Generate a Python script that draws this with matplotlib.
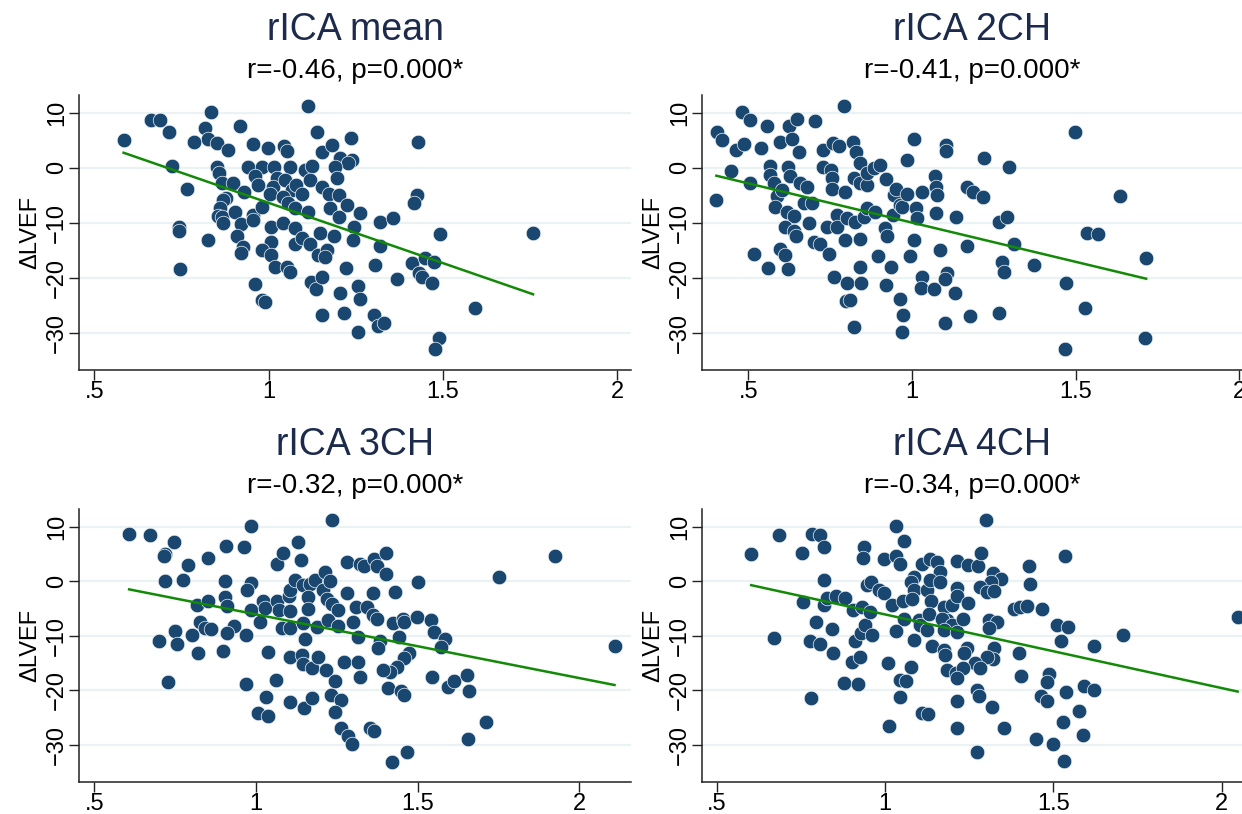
import matplotlib
matplotlib.use("Agg")
import matplotlib.pyplot as plt

plt.rcParams['font.family'] = ['Liberation Sans', 'DejaVu Sans']

# ---------------- DATA ----------------
titles = ["rICA mean", "rICA 2CH", "rICA 3CH", "rICA 4CH"]
subtitles = ["r=-0.46, p=0.000*", "r=-0.41, p=0.000*",
             "r=-0.32, p=0.000*", "r=-0.34, p=0.000*"]

x_mean = [0.584, 0.664, 0.688, 0.714, 0.836, 0.817, 0.826, 0.852, 0.884, 0.785,
          0.918, 0.954, 0.997, 1.045, 1.052, 1.112, 1.139, 1.152, 1.181, 1.236,
          1.205, 1.238, 1.229, 0.724, 0.767, 0.852, 0.858, 0.865, 0.898, 0.930,
          0.879, 0.870, 0.940, 0.980, 0.961, 0.970, 1.016, 1.023, 1.013, 1.004,
          1.061, 1.047, 1.066, 1.042, 1.080, 1.104, 1.124, 1.119, 1.095, 1.057,
          1.076, 1.114, 1.191, 1.196, 1.152, 1.172, 1.201, 1.177, 1.201, 1.224,
          1.262, 0.862, 0.855, 0.865, 0.870, 0.905, 0.920, 0.956, 0.954, 0.980,
          1.008, 1.042, 1.077, 1.148, 1.188, 1.246, 1.243, 0.742, 0.742, 0.825,
          0.908, 1.008, 1.076, 1.097, 1.119, 0.927, 0.920, 0.980, 1.008, 1.018,
          1.052, 1.061, 1.143, 1.167, 1.162, 1.222, 0.747, 0.961, 0.980, 0.991,
          1.123, 1.135, 1.152, 1.154, 1.205, 1.215, 1.258, 1.262, 1.258,
          1.430, 1.425, 1.416, 1.320, 1.358, 1.321, 1.492, 1.759, 1.305, 1.411,
          1.449, 1.476, 1.431, 1.441, 1.468, 1.368, 1.303, 1.314, 1.330, 1.593,
          1.489, 1.478]
y_mean = [5.0, 8.7, 8.6, 6.5, 10.2, 7.3, 5.3, 4.5, 3.2, 4.6,
          7.6, 4.3, 3.6, 3.9, 3.0, 11.3, 6.5, 2.8, 4.1, 5.4,
          1.7, 1.4, 0.8, 0.3, -3.8, 0.2, -0.9, -2.8, -2.8, -4.5,
          -5.6, -5.9, 0.1, 0.1, -1.6, -3.2, 0.1, -1.8, -3.5, -4.7,
          0.1, -2.2, -4.1, -5.3, -3.2, -0.4, 0.3, -2.2, -4.7, -6.5,
          -7.4, -8.0, 0.2, -1.9, -3.5, -4.7, -5.0, -7.4, -8.9, -6.8,
          -8.3, -7.4, -8.8, -8.9, -10.0, -8.0, -10.3, -8.6, -9.6, -7.2,
          -10.7, -10.0, -10.9, -11.8, -12.4, -10.7, -13.2, -10.7, -11.5, -13.2,
          -12.5, -13.5, -13.8, -12.8, -13.9, -14.5, -15.6, -15.0, -15.9, -18.0,
          -18.0, -18.9, -15.9, -15.0, -16.3, -18.3, -18.5, -21.2, -24.1, -24.5,
          -20.7, -22.1, -19.9, -26.8, -22.8, -26.4, -21.6, -23.8, -29.9,
          4.7, -5.0, -6.5, -9.8, -9.1, -14.2, -12.1, -11.9, -17.7, -17.3,
          -16.5, -17.1, -19.1, -19.9, -21.0, -20.3, -26.8, -28.8, -28.2, -25.6,
          -31.0, -33.0]

x_2ch = [0.402, 0.404, 0.420, 0.447, 0.463, 0.486, 0.481, 0.504, 0.504, 0.537,
         0.557, 0.516, 0.561, 0.567, 0.567, 0.577, 0.587, 0.582, 0.598, 0.623,
         0.649, 0.633, 0.620, 0.628, 0.603, 0.618, 0.638, 0.613, 0.638, 0.644,
         0.598, 0.613, 0.620, 0.656, 0.659, 0.679, 0.669, 0.694, 0.684, 0.703,
         0.700, 0.720, 0.727, 0.759, 0.776, 0.727, 0.751, 0.756, 0.756, 0.796,
         0.771, 0.740, 0.771, 0.791, 0.794, 0.746, 0.761, 0.802, 0.798, 0.811,
         0.824, 0.820, 0.830, 0.842, 0.822, 0.842, 0.862, 0.862, 0.883, 0.901,
         0.922, 0.801, 0.826, 0.852, 0.862, 0.887, 0.842, 0.842, 0.845, 0.897,
         0.918, 0.923, 0.920, 0.936, 0.944, 0.952, 0.942, 0.964, 0.971, 0.986,
         0.985, 1.005, 1.030, 1.013, 1.015, 1.005, 0.995, 0.964, 0.974, 0.969,
         1.030, 1.028, 1.066, 1.071, 1.074, 1.078, 1.072, 1.087, 1.105, 1.103,
         1.135, 1.107, 1.102, 1.130, 1.102, 1.168, 1.168, 1.176,
         1.188, 1.217, 1.219, 1.296, 1.265, 1.290, 1.311, 1.275, 1.280, 1.374,
         1.266, 1.499, 1.635, 1.534, 1.569, 1.472, 1.530, 1.469, 1.716, 1.713]
y_2ch = [-5.8, 6.5, 5.0, -0.6, 3.2, 4.3, 10.2, 8.7, -2.8, 3.5,
         7.6, -15.7, -18.3, 0.3, -1.3, -2.8, -5.2, -7.1, 4.7, 7.6,
         8.8, 5.3, 0.1, -1.5, -4.1, -8.0, -8.8, -10.7, -11.6, -12.5,
         -14.7, -15.9, -18.5, 2.9, -2.8, -3.5, -6.5, -6.5, -10.1, 8.5,
         -13.5, -13.8, 3.2, 4.5, 3.9, 0.2, -0.4, -1.9, -3.8, -4.5,
         -8.6, -10.7, -10.7, 11.3, -13.2, -15.7, -19.9, -20.9, -24.2, -24.1,
         -28.9, 4.7, 2.9, 0.9, -1.9, -2.8, -3.2, -1.0, -0.1, 0.5,
         -2.1, -9.2, -9.8, -8.9, -7.4, -8.0, -13.0, -18.1, -20.9, -16.1,
         -11.0, -12.4, -21.3, -18.0, -5.0, -3.9, -8.6, -6.8, -7.2, -4.8,
         1.4, 5.3, -4.4, -7.4, -9.2, -13.2, -16.1, -23.8, -26.8, -29.9,
         -19.9, -21.8, -22.1, -1.6, -3.5, -5.0, -8.2, -15.0, 4.1, 3.1,
         -9.0, -19.1, -20.3, -22.8, -28.2, -3.5, -14.2, -27.0,
         -4.4, -5.3, 1.7, 0.1, -9.8, -9.0, -13.8, -17.1, -19.0, -17.7,
         -26.4, 6.4, -5.2, -11.9, -12.1, -21.0, -25.6, -33.0, -16.5, -31.0]

x_3ch = [0.608, 0.672, 0.747, 0.719, 0.716, 0.791, 0.853, 0.907, 0.964, 0.985,
         0.719, 0.775, 0.906, 0.984, 0.971, 0.817, 0.853, 0.904, 0.911, 0.985,
         0.827, 0.843, 0.860, 0.932, 0.910, 0.968, 0.750, 0.701, 0.755, 0.803,
         0.822, 0.899, 0.729, 0.968, 1.013, 1.023, 1.028, 1.064, 1.085, 1.131,
         1.139, 1.066, 1.072, 1.103, 1.105, 1.121, 1.147, 1.167, 1.183, 1.162,
         1.162, 1.105, 1.080, 1.105, 1.147, 1.152, 1.188, 1.209, 1.214, 1.229,
         1.219, 1.235, 1.255, 1.224, 1.255, 1.234, 1.281, 1.281, 1.038, 1.105,
         1.142, 1.147, 1.173, 1.193, 1.217, 1.245, 1.273, 1.061, 1.031, 1.105,
         1.150, 1.173, 1.008, 1.039, 1.231, 1.262, 1.245, 1.262, 1.286, 1.296,
         1.322, 1.335, 1.366, 1.374, 1.403, 1.402, 1.501, 1.430, 1.363, 1.310,
         1.343, 1.361, 1.374, 1.300, 1.423, 1.455, 1.457, 1.498, 1.541, 1.552,
         1.315, 1.384, 1.379, 1.444, 1.475, 1.457, 1.437, 1.416, 1.393, 1.586,
         1.572, 1.315, 1.322, 1.410, 1.448, 1.457, 1.546, 1.594, 1.613, 1.652,
         1.660, 1.353, 1.366, 1.422, 1.468, 1.655, 1.711, 1.753, 1.925, 2.109]
y_3ch = [8.7, 8.5, 7.3, 5.0, 4.6, 3.1, 4.4, 6.5, 6.4, 10.2,
         0.0, 0.2, 0.0, -0.2, -1.6, -4.4, -3.6, -2.8, -4.5, -5.3,
         -7.5, -8.6, -8.8, -8.1, -9.5, -9.9, -9.1, -10.9, -11.5, -9.9,
         -13.2, -12.7, -18.5, -18.9, -7.5, -3.5, -4.8, 3.2, 5.2, 7.3,
         4.0, -3.6, -5.3, -2.7, -1.5, 0.2, -0.7, -0.4, 0.2, -2.8,
         -5.0, -5.5, -8.6, -8.6, -7.7, -10.5, -8.3, -1.6, 1.7, 0.0,
         -3.2, -4.2, -5.3, -7.1, -8.1, 11.3, 3.5, -2.1, -13.0, -13.8,
         -13.5, -15.1, -15.9, -13.8, -16.2, -18.2, -14.8, -18.0, -21.2, -22.1,
         -23.3, -21.3, -24.2, -24.6, -20.8, -21.8, -23.9, -26.9, -28.3, -29.8,
         3.2, 2.8, 4.2, 2.8, 5.3, 1.4, -0.1, -1.9, -2.2, -4.7,
         -4.7, -6.2, -6.9, -7.5, -7.6, -6.8, -7.4, -6.5, -7.0, -9.2,
         -10.1, -10.9, -12.2, -10.1, -13.2, -14.1, -15.6, -16.6, -16.2, -10.6,
         -12.1, -14.8, -17.6, -19.6, -20.1, -20.8, -17.5, -19.3, -18.3, -17.1,
         -20.1, -26.8, -27.4, -33.2, -31.2, -28.9, -25.7, 0.8, 4.6, -11.9]

x_4ch = [0.602, 0.684, 0.670, 0.754, 0.782, 0.807, 0.817, 0.819, 0.757, 0.817,
         0.827, 0.855, 0.882, 0.795, 0.842, 0.777, 0.807, 0.845, 0.780, 0.878,
         0.919, 0.901, 0.924, 0.911, 0.929, 0.941, 0.961, 0.906, 0.931, 0.956,
         0.946, 0.958, 0.981, 0.996, 1.020, 0.936, 0.933, 0.998, 1.032, 1.057,
         1.032, 1.045, 1.053, 1.055, 1.032, 1.009, 1.077, 1.045, 1.063, 1.043,
         1.012, 1.109, 1.126, 1.085, 1.100, 1.105, 1.110, 1.134, 1.154, 1.162,
         1.085, 1.077, 1.085, 1.080, 1.125, 1.132, 1.162, 1.137, 1.129, 1.174,
         1.199, 1.184, 1.169, 1.199, 1.174, 1.125, 1.140, 1.174, 1.177, 1.184,
         1.209, 1.212, 1.214, 1.214, 1.214, 1.212,
         1.246, 1.275, 1.301, 1.285, 1.321, 1.343, 1.313, 1.283, 1.303, 1.323,
         1.212, 1.246, 1.232, 1.308, 1.333, 1.308, 1.427, 1.429, 1.382, 1.400,
         1.420, 1.467, 1.509, 1.543, 1.534, 1.521, 1.621, 1.708, 2.047, 1.397,
         1.323, 1.321, 1.303, 1.244, 1.234, 1.266, 1.283, 1.232, 1.214, 1.405,
         1.487, 1.482, 1.273, 1.278, 1.318, 1.462, 1.482, 1.538, 1.590, 1.621,
         1.576, 1.529, 1.353, 1.447, 1.499, 1.589, 1.273, 1.531]
y_4ch = [5.0, 8.5, -10.3, 5.2, 8.7, 8.5, 6.4, 0.2, -3.8, -4.4,
         -3.0, -2.7, -3.0, -7.5, -8.7, -10.9, -11.5, -13.2, -21.3, -18.6,
         -18.9, -14.7, -13.8, -11.0, -9.5, -8.0, -9.9, -5.3, -4.7, -5.6,
         -0.7, -0.1, -1.6, -2.2, -4.4, 6.4, 4.4, 4.2, 10.2, 7.5,
         4.7, 3.2, -3.5, -6.8, -9.1, -15.0, -15.6, -18.0, -18.2, -21.2,
         -26.5, -24.1, -24.4, -10.7, -7.1, -8.0, 3.2, 4.2, 3.6, 1.7,
         0.8, -0.1, -1.6, -3.2, -1.5, 0.2, -0.1, -3.6, -5.9, -4.7,
         -4.4, -7.1, -6.8, -8.0, -8.9, -8.9, -11.8, -12.5, -13.5, -16.2,
         -16.8, 3.8, -1.2, -9.2, -21.9, -26.8,
         3.0, 2.9, 11.3, 5.3, 1.5, 0.4, -0.1, -1.0, -1.9, -1.8,
         -2.7, -3.9, -6.8, -7.1, -7.4, -8.6, 2.9, -0.4, -5.0, -4.7,
         -4.5, -5.1, -8.0, -8.3, 4.7, -10.9, -11.9, -9.9, -6.5, -13.2,
         -12.2, -14.2, -13.8, -12.2, -13.2, -15.0, -15.8, -15.9, -17.7, -17.4,
         -17.0, -18.4, -20.0, -21.0, -23.0, -21.0, -21.9, -20.3, -19.2, -19.9,
         -23.8, -25.7, -26.9, -28.9, -29.9, -28.2, -31.2, -33.0]

# linear fit lines as drawn (x_start, x_end, intercept, slope)
fit_lines = [(0.584, 1.759, 15.5, -21.9),
             (0.402, 1.716, 4.26, -14.25),
             (0.608, 2.109, 5.66, -11.69),
             (0.602, 2.047, 7.46, -13.51)]

xs = [x_mean, x_2ch, x_3ch, x_4ch]
ys = [y_mean, y_2ch, y_3ch, y_4ch]
xlims = [(0.456, 2.04), (0.358, 2.009), (0.453, 2.16), (0.456, 2.06)]

# ---------------- PLOT ----------------
W, H = 1242, 814
fig = plt.figure(figsize=(W / 100, H / 100), dpi=100)

# axes boxes in pixels: left, right, bottom, top (measured from the top edge)
boxes = [(79, 631, 369.5, 94.5), (702, 1242, 369.5, 94.5),
         (79, 631, 781.5, 509.0), (702, 1242, 781.5, 509.0)]

navy = "#1a476f"
for i in range(4):
    l, r, b, t = boxes[i]
    ax = fig.add_axes([l / W, 1 - b / H, (r - l) / W, (b - t) / H])
    ax.set_xlim(*xlims[i])
    ax.set_ylim(-36.7, 13.3)
    ax.set_yticks([-30, -20, -10, 0, 10])
    ax.set_xticks([0.5, 1, 1.5, 2])
    ax.set_xticklabels([".5", "1", "1.5", "2"])
    ax.yaxis.grid(True, color="#eaf2f3", lw=1.6)
    ax.set_axisbelow(True)
    for s in ["top", "right"]:
        ax.spines[s].set_visible(False)
    for s in ["left", "bottom"]:
        ax.spines[s].set_color("#222222")
        ax.spines[s].set_linewidth(1.1)
    ax.tick_params(axis="both", labelsize=17, length=7, width=1.0, color="#222222",
                   direction="out", pad=1)
    ax.tick_params(axis="y", labelrotation=90)
    for lab in ax.get_yticklabels():
        lab.set_va("center")
    ax.scatter(xs[i], ys[i], s=110, color=navy, edgecolors="#eef3f6", linewidths=0.5, zorder=3)
    x0, x1, b0, b1 = fit_lines[i]
    ax.plot([x0, x1], [b0 + b1 * x0, b0 + b1 * x1], color="#138a07", lw=1.8, zorder=4)
    ax.set_ylabel("ΔLVEF", fontsize=17, labelpad=3)
    ax.text(0.5, 1.235, titles[i], transform=ax.transAxes, ha="center", va="center",
            fontsize=27, color="#1c2b4c")
    ax.text(0.5, 1.085, subtitles[i], transform=ax.transAxes, ha="center", va="center",
            fontsize=20, color="black")

fig.savefig("out.png", dpi=100, facecolor="white")
